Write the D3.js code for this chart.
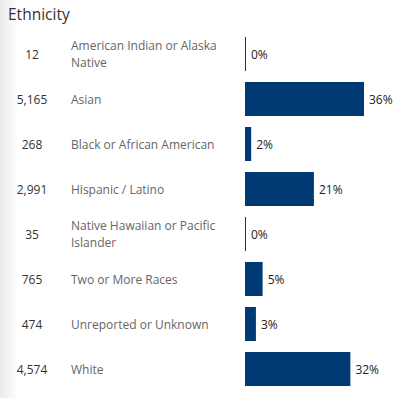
<!DOCTYPE html>
<html>
<head>
<meta charset="utf-8">
<script src="https://cdn.jsdelivr.net/npm/d3@7"></script>
<style>
  body { margin: 0; background: #fff; }
  svg { display: block; font-family: "Open Sans", Lato, sans-serif; }
</style>
</head>
<body>
<svg id="chart"></svg>
<script>
const categories = [
    "American Indian or Alaska Native",
    "Asian",
    "Black or African American",
    "Hispanic / Latino",
    "Native Hawaiian or Pacific Islander",
    "Two or More Races",
    "Unreported or Unknown",
    "White"
];
const counts = [12, 5165, 268, 2991, 35, 765, 474, 4574];

const total = d3.sum(counts);
const rows = categories.map((c, i) => ({ cat: c, count: counts[i], share: counts[i] / total }));

const width = 404, height = 398;
const svg = d3.select("#chart")
    .attr("width", width)
    .attr("height", height);

// soft shadow along the left edge
const grad = svg.append("defs").append("linearGradient")
    .attr("id", "edge")
    .attr("x1", "0").attr("x2", "1").attr("y1", "0").attr("y2", "0");
grad.append("stop").attr("offset", "0").attr("stop-color", "#e9e9e9");
grad.append("stop").attr("offset", "1").attr("stop-color", "#ffffff");
svg.append("rect")
    .attr("x", 0).attr("y", 0)
    .attr("width", 18).attr("height", height)
    .attr("fill", "url(#edge)");

// Title
svg.append("text")
    .attr("x", 8)
    .attr("y", 20)
    .attr("fill", "#333")
    .style("font-size", "15.5px")
    .text("Ethnicity");

// Scales
const y = d3.scaleBand()
    .domain(categories)
    .range([31.5, 391.5])
    .paddingInner(0.244)
    .paddingOuter(0.122);

const x = d3.scaleLinear()
    .domain([0, d3.max(rows, d => d.share)])
    .range([245, 364]);

const fmtCount = d3.format(",");
const fmtPct = d3.format(".0%");
const fs = "12px";

const row = svg.selectAll(".row")
    .data(rows)
    .enter().append("g")
    .attr("class", "row")
    .attr("transform", d => "translate(0," + (y(d.cat) + y.bandwidth() / 2) + ")");

// count column
row.append("text")
    .attr("x", 32)
    .attr("y", 5)
    .attr("text-anchor", "middle")
    .attr("fill", "#333")
    .style("font-size", fs)
    .text(d => fmtCount(d.count));

// category column, wrapped
const wrapWidth = 165;
row.append("text")
    .attr("class", "cat")
    .attr("x", 71)
    .attr("fill", "#666")
    .style("font-size", fs)
    .each(function(d) {
        const t = d3.select(this);
        const words = d.cat.split(" ");
        const lines = [];
        let line = [];
        const probe = t.append("tspan");
        words.forEach(w => {
            const test = line.concat(w).join(" ");
            probe.text(test);
            if (probe.node().getComputedTextLength() > wrapWidth && line.length) {
                lines.push(line.join(" "));
                line = [w];
            } else {
                line.push(w);
            }
        });
        lines.push(line.join(" "));
        probe.remove();
        const pitch = 17;
        const first = lines.length === 1 ? 5 : -4;
        lines.forEach((l, i) => {
            t.append("tspan")
                .attr("x", 71)
                .attr("y", first + i * pitch)
                .text(l);
        });
    });

// bars
row.append("rect")
    .attr("x", x(0))
    .attr("y", -y.bandwidth() / 2)
    .attr("height", y.bandwidth())
    .attr("width", d => Math.max(1, x(d.share) - x(0)))
    .attr("fill", "#003a74");

// percent labels
row.append("text")
    .attr("x", d => x(0) + Math.max(1, x(d.share) - x(0)) + 5)
    .attr("y", 5)
    .attr("fill", "#222")
    .style("font-size", fs)
    .text(d => fmtPct(d.share));
</script>
</body>
</html>
